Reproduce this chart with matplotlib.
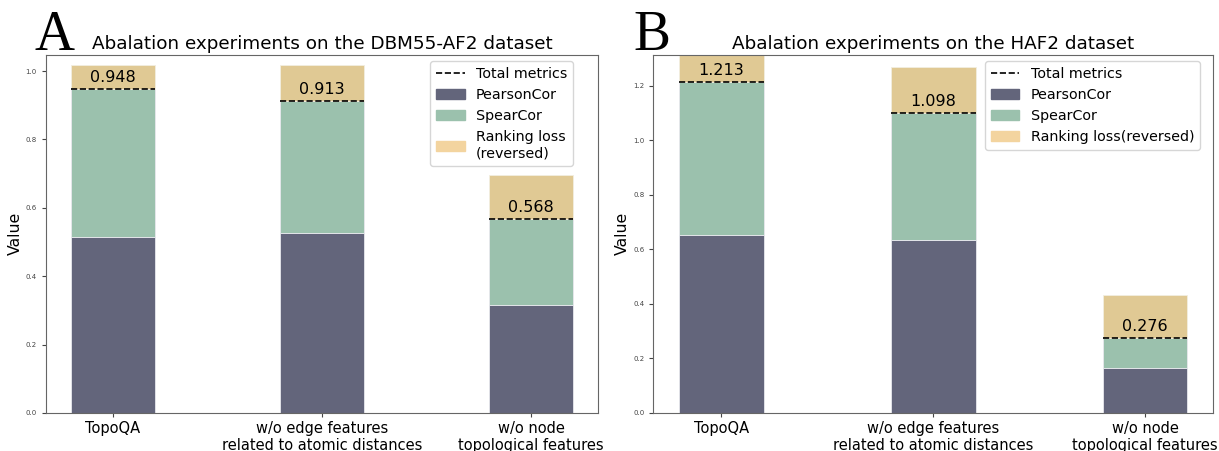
import numpy as np
import matplotlib
matplotlib.use('Agg')
import matplotlib.pyplot as plt
from matplotlib.patches import Patch
from matplotlib.lines import Line2D

categories = ["TopoQA", "w/o edge features\nrelated to atomic distances", "w/o node\ntopological features"]

# panel A: DBM55-AF2
pearson_a = [0.516, 0.526, 0.316]
spear_a = [0.432, 0.387, 0.252]
rank_a = [0.070, 0.105, 0.128]
total_a = [0.948, 0.913, 0.568]

# panel B: HAF2
pearson_b = [0.651, 0.633, 0.166]
spear_b = [0.562, 0.465, 0.110]
rank_b = [0.150, 0.170, 0.158]
total_b = [1.213, 1.098, 0.276]

c_pear = '#63657b'
c_spear = '#9bc1ad'
c_rank = '#e0c994'
c_rank_leg = '#f3d49f'

fig = plt.figure(figsize=(12.19, 4.51), dpi=100)
axA = fig.add_axes([0.0375, 0.0843, 0.4531, 0.7944])
axB = fig.add_axes([0.536, 0.0843, 0.459, 0.7944])


def panel(ax, pearson, spear, rank, total, title, twoline, legx):
	x = np.arange(len(categories))
	w = 0.4
	ax.bar(x, pearson, w, color=c_pear, edgecolor='#e8e8ee', linewidth=0.6)
	ax.bar(x, spear, w, bottom=pearson, color=c_spear, edgecolor='#e8e8ee', linewidth=0.6)
	ax.bar(x, rank, w, bottom=total, color=c_rank, edgecolor='#f2eee0', linewidth=0.6)
	for i in range(len(x)):
		ax.hlines(total[i], x[i] - w / 2, x[i] + w / 2, colors='black',
			linestyles='--', linewidth=1.2)
		ax.annotate("%.3f" % total[i], (x[i], total[i]), xytext=(0, 3),
			textcoords='offset points', ha='center', va='bottom', fontsize=11.5)
	ax.set_xlim(-0.32, 2.32)
	ax.set_ylim(0, max(total) + 0.1)
	ax.set_xticks(x)
	ax.set_xticklabels(categories, fontsize=10.5, linespacing=1.15)
	ax.tick_params(axis='y', labelsize=5, colors='#444444', length=3)
	ax.tick_params(axis='x', color='#444444', length=3, pad=3)
	ax.set_ylabel("Value", fontsize=11.3, labelpad=2)
	ax.set_title(title, fontsize=13.2, pad=4)
	for s in ax.spines.values():
		s.set_color('#666666')
	lab = "Ranking loss\n(reversed)" if twoline else "Ranking loss(reversed)"
	handles = [Line2D([0], [0], color='black', ls='--', lw=1.2),
		Patch(color=c_pear), Patch(color=c_spear), Patch(color=c_rank_leg)]
	ax.legend(handles, ["Total metrics", "PearsonCor", "SpearCor", lab],
		loc='upper right', bbox_to_anchor=(legx, 0.982), borderaxespad=0,
		fontsize=10.3, handlelength=2.0, labelspacing=0.5)


panel(axA, pearson_a, spear_a, rank_a, total_a, "Abalation experiments on the DBM55-AF2 dataset", True, 0.955)
panel(axB, pearson_b, spear_b, rank_b, total_b, "Abalation experiments on the HAF2 dataset", False, 0.977)

fig.text(0.028, 0.89, "A", fontsize=40, family='Liberation Serif')
fig.text(0.52, 0.89, "B", fontsize=40, family='Liberation Serif')

plt.savefig('out.png', dpi=100)
